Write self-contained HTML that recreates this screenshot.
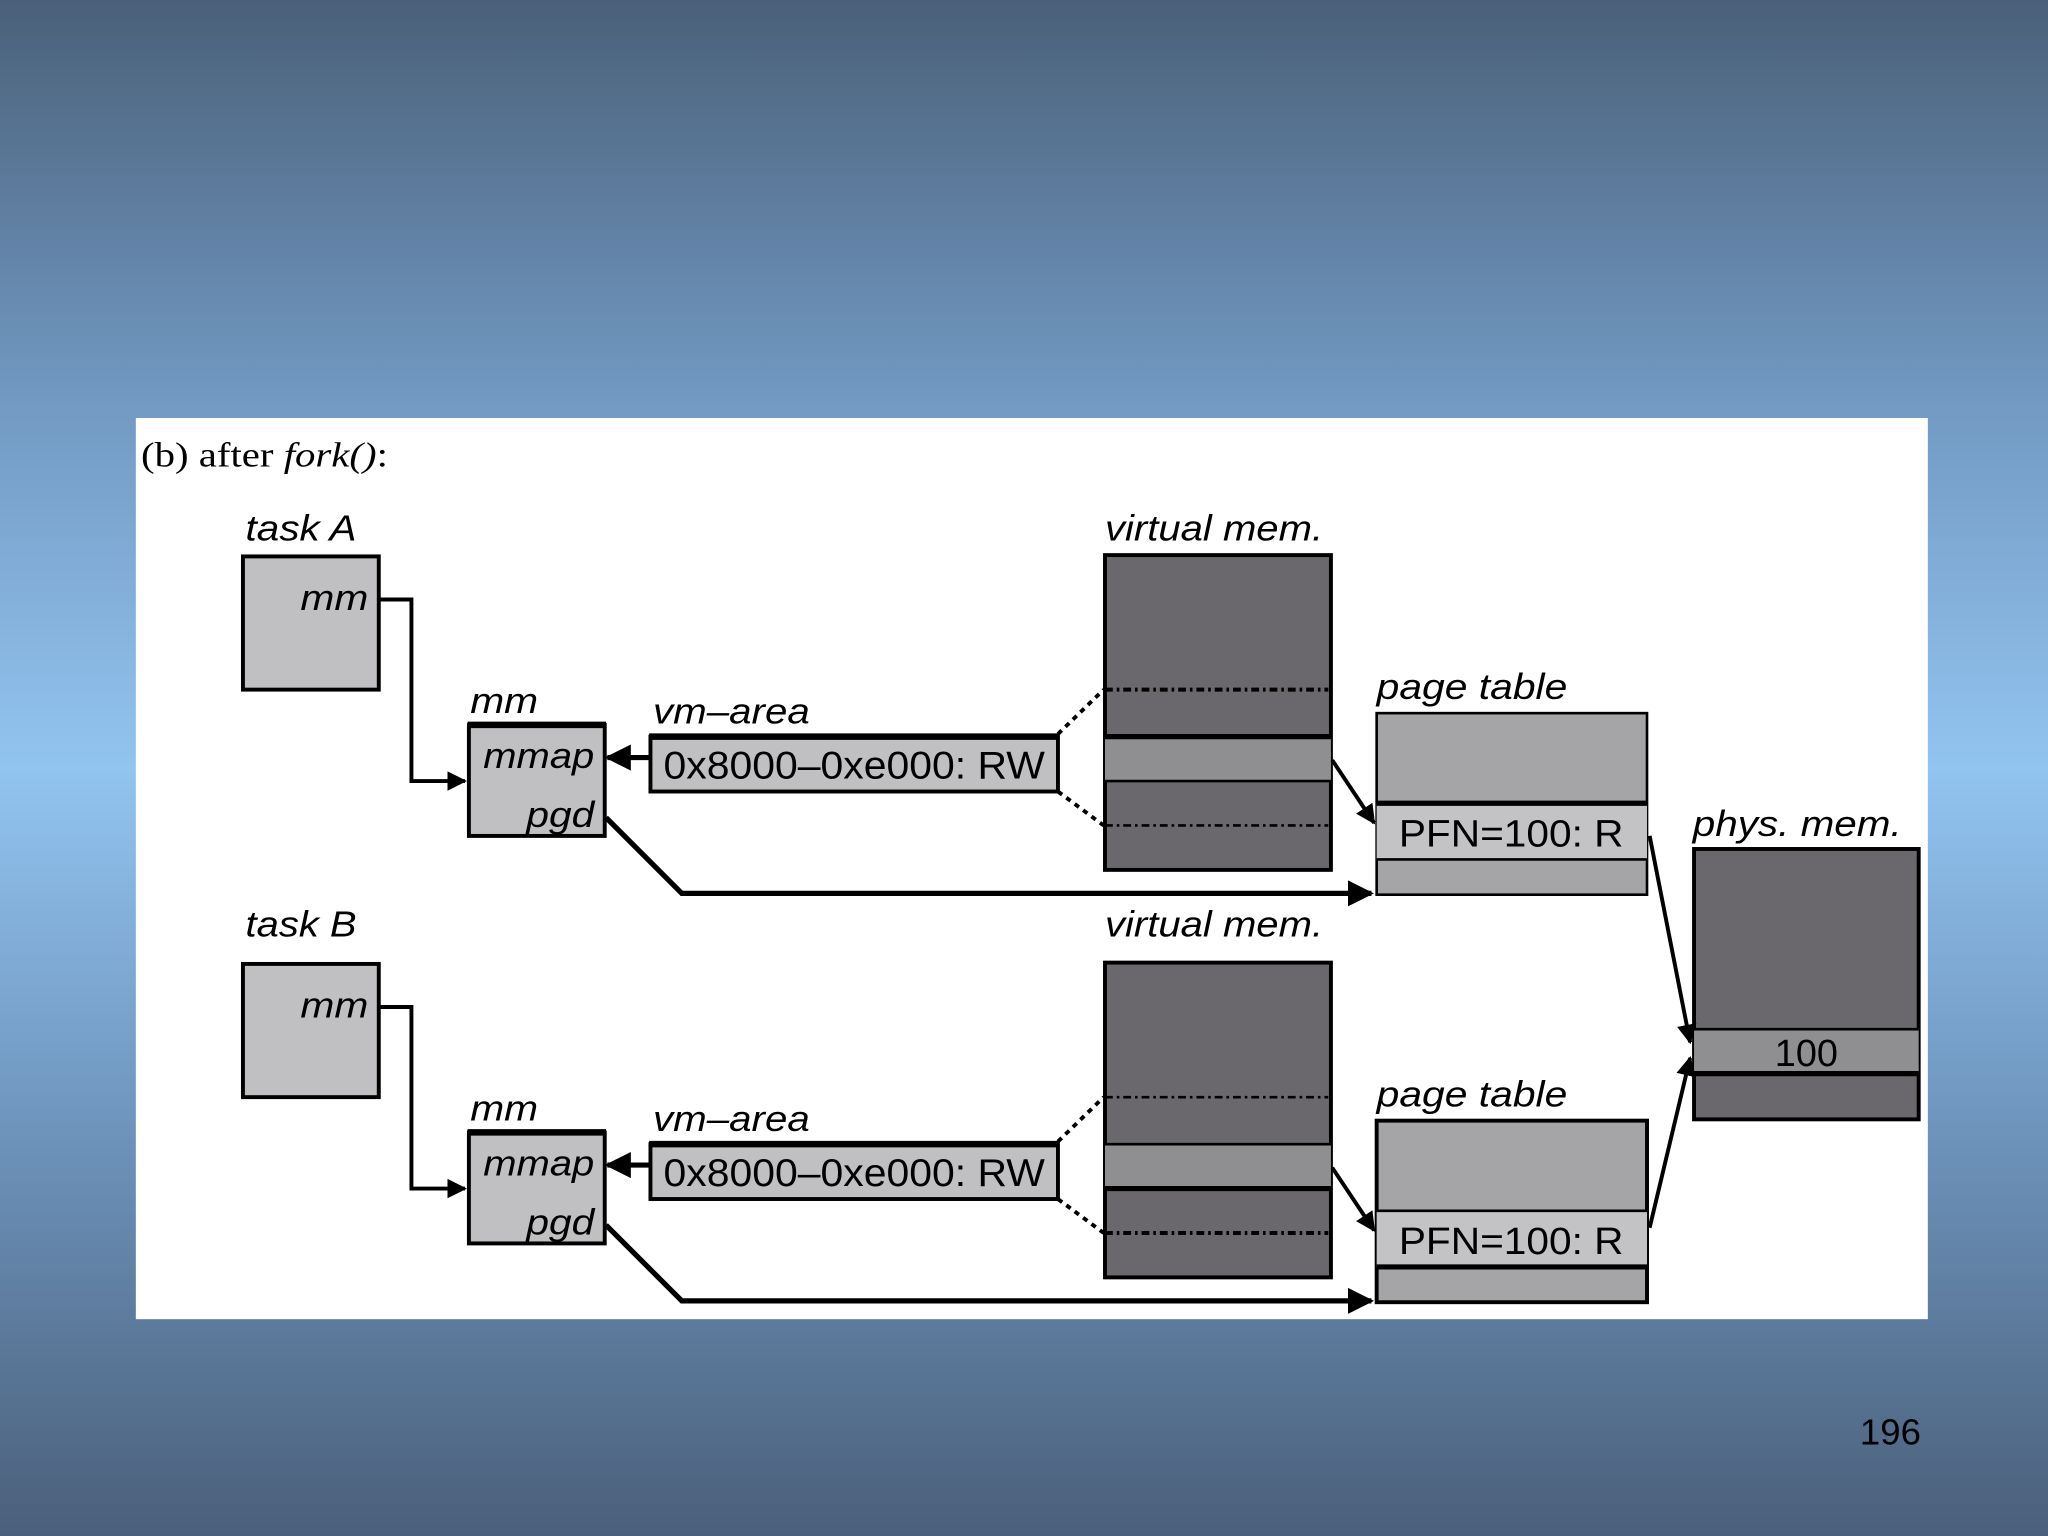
<!DOCTYPE html>
<html><head><meta charset="utf-8"><style>
html,body{margin:0;padding:0;}
body{width:2048px;height:1536px;overflow:hidden;background:linear-gradient(#4a6079 0%,#7097c0 25%,#92c4f0 50%,#7097c0 72%,#4a5f7a 100%);}
svg{display:block;}
text{font-family:"Liberation Sans",sans-serif;}
.it{font-style:italic;}
</style></head><body>
<svg width="2048" height="1536" viewBox="0 0 1568 1176" xmlns="http://www.w3.org/2000/svg">
<defs>
<marker id="ar" viewBox="0 0 10 10" refX="9" refY="5" markerWidth="5" markerHeight="5" orient="auto"><path d="M0,0 L10,5 L0,10 z" fill="#000"/></marker>
</defs>
<rect x="104" y="320" width="1372" height="690" fill="#fff"/>
<text x="108" y="357" font-size="27" textLength="189" lengthAdjust="spacingAndGlyphs" style="font-family:'Liberation Serif',serif">(b) after <tspan font-style="italic">fork()</tspan>:</text>

<g id="top">
<text x="188" y="414" class="it" font-size="28" textLength="85" lengthAdjust="spacingAndGlyphs">task A</text>
<rect x="186" y="426" width="104" height="102" fill="#c0bfc2" stroke="#000" stroke-width="3"/>
<text x="230" y="467" class="it" font-size="28" textLength="52" lengthAdjust="spacingAndGlyphs">mm</text>
<polyline points="290,459 315,459 315,598 356,598" fill="none" stroke="#000" stroke-width="3" marker-end="url(#ar)"/>
<text x="360" y="546" class="it" font-size="28" textLength="52" lengthAdjust="spacingAndGlyphs">mm</text>
<rect x="359" y="555" width="104" height="85" fill="#c0bfc2" stroke="#000" stroke-width="3"/>
<line x1="358" y1="555" x2="464" y2="555" stroke="#000" stroke-width="5"/>
<text x="370" y="588" class="it" font-size="28" textLength="85" lengthAdjust="spacingAndGlyphs">mmap</text>
<text x="403" y="633" class="it" font-size="28" textLength="52" lengthAdjust="spacingAndGlyphs">pgd</text>
<line x1="497" y1="580" x2="465" y2="580" stroke="#000" stroke-width="4" marker-end="url(#ar)"/>
<text x="500" y="554" class="it" font-size="28" textLength="120" lengthAdjust="spacingAndGlyphs">vm–area</text>
<rect x="498" y="564" width="312" height="42" fill="#c0bfc2" stroke="#000" stroke-width="3"/>
<line x1="497" y1="564" x2="811" y2="564" stroke="#000" stroke-width="5"/>
<text x="508" y="596" font-size="30" textLength="292" lengthAdjust="spacingAndGlyphs">0x8000–0xe000: RW</text>
<text x="846" y="414" class="it" font-size="28" textLength="167" lengthAdjust="spacingAndGlyphs">virtual mem.</text>
<rect x="846" y="425" width="173" height="241" fill="#6a686c" stroke="#000" stroke-width="3"/>
<rect x="846" y="564" width="173" height="34" fill="#8f8e91"/>
<line x1="846" y1="564" x2="1019" y2="564" stroke="#000" stroke-width="4"/>
<line x1="846" y1="598" x2="1019" y2="598" stroke="#000" stroke-width="2"/>
<line x1="846" y1="528" x2="1017" y2="528" stroke="#000" stroke-width="3" stroke-dasharray="6,3,2,3"/>
<line x1="846" y1="632" x2="1017" y2="632" stroke="#000" stroke-width="2" stroke-dasharray="6,3,2,3"/>
<line x1="810" y1="562" x2="845" y2="528" stroke="#000" stroke-width="3" stroke-dasharray="4,4"/>
<line x1="810" y1="606" x2="845" y2="632" stroke="#000" stroke-width="3" stroke-dasharray="4,4"/>
<line x1="1020" y1="582" x2="1052" y2="630" stroke="#000" stroke-width="3" marker-end="url(#ar)"/>
<text x="1054" y="535" class="it" font-size="28" textLength="146" lengthAdjust="spacingAndGlyphs">page table</text>
<rect x="1054" y="546" width="207" height="139" fill="#a5a4a7" stroke="#000" stroke-width="2"/>
<rect x="1054" y="615" width="207" height="43" fill="#c3c2c5"/>
<line x1="1054" y1="615" x2="1261" y2="615" stroke="#000" stroke-width="4"/>
<line x1="1054" y1="658" x2="1261" y2="658" stroke="#000" stroke-width="2"/>
<text x="1071" y="648" font-size="29" textLength="172" lengthAdjust="spacingAndGlyphs">PFN=100: R</text>
<polyline points="464,626 522,684 1050,684" fill="none" stroke="#000" stroke-width="4" marker-end="url(#ar)"/>
</g>

<g transform="translate(0,312)">
<text x="188" y="414" class="it" font-size="28" transform="translate(0,-9)" textLength="85" lengthAdjust="spacingAndGlyphs">task B</text>
<rect x="186" y="426" width="104" height="102" fill="#c0bfc2" stroke="#000" stroke-width="3"/>
<text x="230" y="467" class="it" font-size="28" textLength="52" lengthAdjust="spacingAndGlyphs">mm</text>
<polyline points="290,459 315,459 315,598 356,598" fill="none" stroke="#000" stroke-width="3" marker-end="url(#ar)"/>
<text x="360" y="546" class="it" font-size="28" textLength="52" lengthAdjust="spacingAndGlyphs">mm</text>
<rect x="359" y="555" width="104" height="85" fill="#c0bfc2" stroke="#000" stroke-width="3"/>
<line x1="358" y1="555" x2="464" y2="555" stroke="#000" stroke-width="5"/>
<text x="370" y="588" class="it" font-size="28" textLength="85" lengthAdjust="spacingAndGlyphs">mmap</text>
<text x="403" y="633" class="it" font-size="28" textLength="52" lengthAdjust="spacingAndGlyphs">pgd</text>
<line x1="497" y1="580" x2="465" y2="580" stroke="#000" stroke-width="4" marker-end="url(#ar)"/>
<text x="500" y="554" class="it" font-size="28" textLength="120" lengthAdjust="spacingAndGlyphs">vm–area</text>
<rect x="498" y="564" width="312" height="42" fill="#c0bfc2" stroke="#000" stroke-width="3"/>
<line x1="497" y1="564" x2="811" y2="564" stroke="#000" stroke-width="5"/>
<text x="508" y="596" font-size="30" textLength="292" lengthAdjust="spacingAndGlyphs">0x8000–0xe000: RW</text>
<text x="846" y="414" class="it" font-size="28" transform="translate(0,-9)" textLength="167" lengthAdjust="spacingAndGlyphs">virtual mem.</text>
<rect x="846" y="425" width="173" height="241" fill="#6a686c" stroke="#000" stroke-width="3"/>
<rect x="846" y="564" width="173" height="34" fill="#8f8e91"/>
<line x1="846" y1="564" x2="1019" y2="564" stroke="#000" stroke-width="2"/>
<line x1="846" y1="598" x2="1019" y2="598" stroke="#000" stroke-width="4"/>
<line x1="846" y1="528" x2="1017" y2="528" stroke="#000" stroke-width="2" stroke-dasharray="6,3,2,3"/>
<line x1="846" y1="632" x2="1017" y2="632" stroke="#000" stroke-width="3" stroke-dasharray="6,3,2,3"/>
<line x1="810" y1="562" x2="845" y2="528" stroke="#000" stroke-width="3" stroke-dasharray="4,4"/>
<line x1="810" y1="606" x2="845" y2="632" stroke="#000" stroke-width="3" stroke-dasharray="4,4"/>
<line x1="1020" y1="582" x2="1052" y2="630" stroke="#000" stroke-width="3" marker-end="url(#ar)"/>
<text x="1054" y="535" class="it" font-size="28" textLength="146" lengthAdjust="spacingAndGlyphs">page table</text>
<rect x="1054" y="546" width="207" height="139" fill="#a5a4a7" stroke="#000" stroke-width="3"/>
<rect x="1054" y="615" width="207" height="43" fill="#c3c2c5"/>
<line x1="1054" y1="615" x2="1261" y2="615" stroke="#000" stroke-width="2"/>
<line x1="1054" y1="658" x2="1261" y2="658" stroke="#000" stroke-width="4"/>
<text x="1071" y="648" font-size="29" textLength="172" lengthAdjust="spacingAndGlyphs">PFN=100: R</text>
<polyline points="464,626 522,684 1050,684" fill="none" stroke="#000" stroke-width="4" marker-end="url(#ar)"/>
</g>

<text x="1296" y="640" class="it" font-size="28" textLength="160" lengthAdjust="spacingAndGlyphs">phys. mem.</text>
<rect x="1297" y="650" width="172" height="207" fill="#6a686c" stroke="#000" stroke-width="3"/>
<rect x="1297" y="788" width="172" height="34" fill="#8f8e91"/>
<line x1="1297" y1="788" x2="1469" y2="788" stroke="#000" stroke-width="2"/>
<line x1="1297" y1="822" x2="1469" y2="822" stroke="#000" stroke-width="4"/>
<text x="1383" y="816" font-size="29" text-anchor="middle">100</text>
<line x1="1263" y1="640" x2="1294" y2="798" stroke="#000" stroke-width="3" marker-end="url(#ar)"/>
<line x1="1263" y1="940" x2="1294" y2="810" stroke="#000" stroke-width="3" marker-end="url(#ar)"/>

<text x="1424" y="1106" font-size="28">196</text>
</svg>
</body></html>
